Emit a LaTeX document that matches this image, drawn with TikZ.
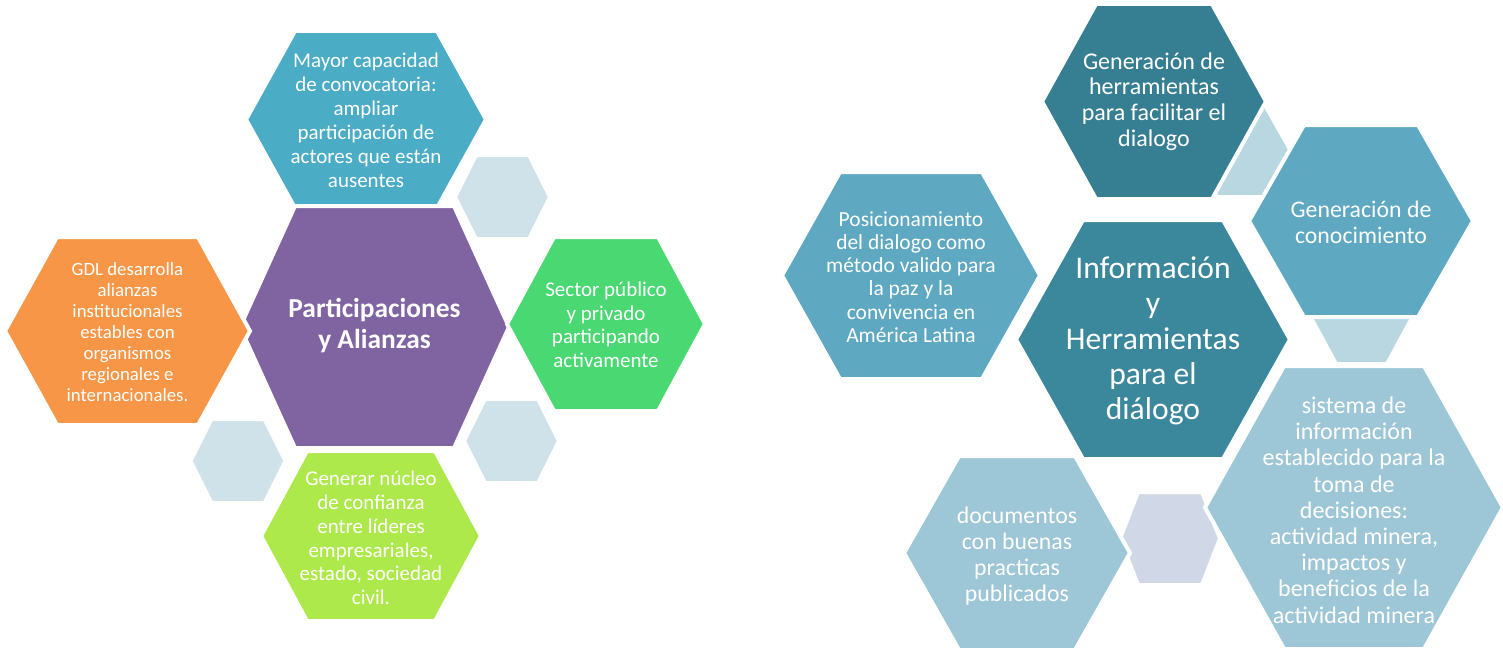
\documentclass[tikz,border=0pt]{standalone}
\usepackage{fontspec}
\setmainfont{Carlito}

\definecolor{aqua}{HTML}{4BACC6}
\definecolor{violet}{HTML}{8064A2}
\definecolor{tangerine}{HTML}{F79646}
\definecolor{mint}{HTML}{49D872}
\definecolor{lime}{HTML}{ADE94A}
\definecolor{frost}{HTML}{CFE1E9}
\definecolor{petrol}{HTML}{367E92}
\definecolor{teal}{HTML}{3B879C}
\definecolor{steel}{HTML}{5EA9C1}
\definecolor{sky}{HTML}{9DC6D6}
\definecolor{mist}{HTML}{B8D7E1}
\definecolor{lavender}{HTML}{D0D8E8}

% hexagon: centre x, centre y, half width, half height, inset, colour
\newcommand{\hexagon}[6]{%
  \filldraw[hexline, fill=#6] ({#1-#3},{#2}) -- ({#1-#3+#5},{#2-#4}) -- ({#1+#3-#5},{#2-#4})
    -- ({#1+#3},{#2}) -- ({#1+#3-#5},{#2+#4}) -- ({#1-#3+#5},{#2+#4}) -- cycle;}

\begin{document}
\begin{tikzpicture}[x=1pt, y=-1pt,
	hexline/.style={draw=white, line width=4pt},
	txt/.style={text=white, align=center, inner sep=0pt}]
	\useasboundingbox (0,0) rectangle (1503,650);
	% Participaciones y Alianzas
	\hexagon{502.5}{197}{47.5}{42}{21}{frost}
	\hexagon{511.5}{441}{47.5}{42}{21}{frost}
	\hexagon{238}{461}{47.5}{42}{21}{frost}
	\hexagon{366}{119.5}{120}{88.5}{49}{aqua}
	\hexagon{374.5}{327}{134.5}{121}{55}{violet}
	\hexagon{127.5}{331}{122.5}{94}{52}{tangerine}
	\hexagon{606}{324}{99}{87}{47}{mint}
	\hexagon{371}{536}{110}{85}{46}{lime}
	
	\node[txt, font=\fontsize{21}{24}\selectfont] (convocatoria) at (366,120) {Mayor capacidad\\de convocatoria:\\ampliar\\participación de\\actores que están\\ausentes};
	\node[txt, font=\bfseries\fontsize{27.4}{31}\selectfont] (alianzas) at (374.5,326) {Participaciones\\y Alianzas};
	\node[txt, font=\fontsize{18.8}{21}\selectfont] (gdl) at (127.5,332) {GDL desarrolla\\alianzas\\institucionales\\estables con\\organismos\\regionales e\\internacionales.};
	\node[txt, font=\fontsize{21}{23.5}\selectfont] (sector) at (606,325) {Sector público\\y privado\\participando\\activamente};
	\node[txt, font=\fontsize{21}{23.8}\selectfont] (nucleo) at (371,538) {Generar núcleo\\de confianza\\entre líderes\\empresariales,\\estado, sociedad\\civil.};
	
	% Informacion y Herramientas
	\hexagon{1241}{151}{50}{46}{26}{mist}
	\hexagon{1361.5}{318}{50.5}{46}{25}{mist}
	\hexagon{1170}{538.5}{50}{46.5}{18}{lavender}
	\hexagon{1154}{101.5}{112}{97.5}{54}{petrol}
	\hexagon{911}{275.5}{129}{103.5}{58}{steel}
	\hexagon{1153}{339.5}{137}{119.5}{67}{teal}
	\hexagon{1361}{221}{112}{96}{55}{steel}
	\hexagon{1017}{553}{113}{97}{55}{sky}
	\hexagon{1354}{507.5}{149}{141.5}{79}{sky}
	
	\node[txt, font=\fontsize{24}{25.7}\selectfont] (herramientas) at (1154,101.5) {Generación de\\herramientas\\para facilitar el\\dialogo};
	\node[txt, font=\fontsize{21.5}{23.2}\selectfont] (posicion) at (911,277) {Posicionamiento\\del dialogo como\\método valido para\\la paz y la\\convivencia en\\América Latina};
	\node[txt, font=\fontsize{31.6}{35.3}\selectfont] (informacion) at (1153,341) {Información\\y\\Herramientas\\para el\\diálogo};
	\node[txt, font=\fontsize{23.8}{26}\selectfont] (conocimiento) at (1361,222) {Generación de\\conocimiento};
	\node[txt, font=\fontsize{24}{26.2}\selectfont] (sistema) at (1354,510) {sistema de\\información\\establecido para la\\toma de\\decisiones:\\actividad minera,\\impactos y\\beneficios de la\\actividad minera};
	\node[txt, font=\fontsize{23.8}{26}\selectfont] (documentos) at (1017,556) {documentos\\con buenas\\practicas\\publicados};
\end{tikzpicture}
\end{document}
